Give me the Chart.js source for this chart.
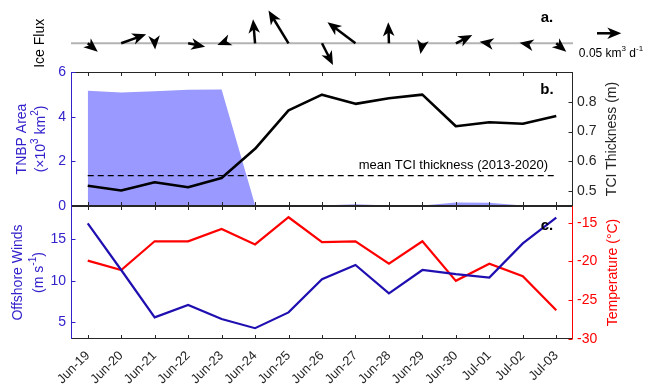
<!DOCTYPE html>
<html>
<head>
<meta charset="utf-8">
<script src="https://cdn.jsdelivr.net/npm/chart.js@4.4.1/dist/chart.umd.min.js"></script>
<style>
  html, body { margin: 0; padding: 0; background: #ffffff; }
  #wrap { position: relative; width: 649px; height: 388px; overflow: hidden; background: #ffffff; }
  #wrap canvas { position: absolute; left: 0; top: 0; }
</style>
</head>
<body>
<div id="wrap">
  <canvas id="panelA" width="649" height="388"></canvas>
  <canvas id="panelB" width="649" height="388"></canvas>
  <canvas id="panelC" width="649" height="388"></canvas>
</div>
<script>
// ---- data ----
const dates = ['Jun-19', 'Jun-20', 'Jun-21', 'Jun-22', 'Jun-23', 'Jun-24', 'Jun-25', 'Jun-26',
               'Jun-27', 'Jun-28', 'Jun-29', 'Jun-30', 'Jul-01', 'Jul-02', 'Jul-03'];

// daily ice flux vectors (km^3 d^-1): eastward and northward components
const iceFluxU = [0.0206, 0.0514, 0.0010, 0.0350, -0.0088, -0.0041, -0.0412, 0.0226,
                  -0.0576, -0.0014, -0.0040, 0.0337, -0.0200, -0.0066, 0.0206];
const iceFluxV = [-0.0173, 0.0185, -0.0130, -0.0070, -0.0035, 0.0494, 0.0673, -0.0447,
                  0.0432, 0.0432, -0.0220, 0.0171, 0.0033, 0.0012, -0.0173];
const fluxReference = 0.05;

// TNBP polynya area (x10^3 km^2) and TCI thickness (m)
const tnbpArea = [5.16, 5.08, 5.14, 5.20, 5.22, 0.04, 0.02, 0.02, 0.08, 0.02, 0.02, 0.16, 0.15, 0.02, 0.0];
const tciThickness = [0.518, 0.502, 0.530, 0.513, 0.544, 0.642, 0.771, 0.824, 0.793, 0.812, 0.824,
                      0.718, 0.731, 0.726, 0.752];
const tciMeanThickness = 0.552;

// offshore winds (m s^-1) and air temperature (deg C)
const offshoreWinds = [16.9, 11.3, 5.6, 7.1, 5.4, 4.3, 6.2, 10.2, 11.9, 8.5, 11.3, 10.8, 10.4, 14.5, 17.6];
const temperature = [-19.9, -21.1, -17.4, -17.4, -15.8, -17.8, -14.3, -17.5, -17.4, -20.3, -17.4,
                     -22.5, -20.3, -21.9, -26.3];

// tick labels
const areaTicks = [0, 2, 4, 6];
const thicknessTicks = [0.5, 0.6, 0.7, 0.8];
const windTicks = [5, 10, 15];
const temperatureTicks = [-30, -25, -20, -15];

// ---- styling ----
const FONT = '"Liberation Sans", Arial, Helvetica, sans-serif';
const AXIS = '#262626';
const BLUE_TEXT = '#3322cc';
const BLUE_LINE = '#1f0fb0';
const AREA_FILL = '#9999ff';
const RED = '#ff0000';
const PLOT_LEFT = 71, PLOT_RIGHT = 573, W = 649, H = 388;
const A_BOTTOM = 72, B_BOTTOM = 206, C_BOTTOM = 339;

Chart.defaults.font.family = FONT;
Chart.defaults.animation = false;
Chart.defaults.responsive = false;
Chart.defaults.devicePixelRatio = 1;
Chart.defaults.plugins.legend.display = false;
Chart.defaults.plugins.tooltip.enabled = false;

// text with superscript segments: segs = [[text, isSup], ...]
function richText(ctx, segs, x, y, o) {
  const size = o.size || 14;
  const weight = o.bold ? 'bold ' : '';
  const base = weight + size + 'px ' + FONT;
  const small = weight + Math.round(size * 0.7) + 'px ' + FONT;
  ctx.save();
  ctx.translate(x, y);
  ctx.rotate(o.rot || 0);
  let w = 0;
  segs.forEach(s => { ctx.font = s[1] ? small : base; w += ctx.measureText(s[0]).width; });
  let cx = o.align === 'right' ? -w : (o.align === 'left' ? 0 : -w / 2);
  ctx.fillStyle = o.color || AXIS;
  ctx.textAlign = 'left';
  ctx.textBaseline = 'middle';
  segs.forEach(s => {
    ctx.font = s[1] ? small : base;
    ctx.fillText(s[0], cx, s[1] ? -size * 0.38 : 0);
    cx += ctx.measureText(s[0]).width;
  });
  ctx.restore();
}

function seg(ctx, x1, y1, x2, y2) {
  ctx.beginPath(); ctx.moveTo(x1, y1); ctx.lineTo(x2, y2); ctx.stroke();
}

function arrow(ctx, x1, y1, x2, y2) {
  const dx = x2 - x1, dy = y2 - y1, len = Math.hypot(dx, dy) || 1;
  const ux = dx / len, uy = dy / len, nx = -uy, ny = ux;
  const L = 14, Wd = 5.8;
  ctx.lineWidth = 2.5;
  ctx.lineCap = 'butt';
  if (len > L * 0.7) seg(ctx, x1, y1, x2 - ux * L * 0.6, y2 - uy * L * 0.6);
  ctx.beginPath();
  ctx.moveTo(x2, y2);
  ctx.lineTo(x2 - ux * L + nx * Wd, y2 - uy * L + ny * Wd);
  ctx.lineTo(x2 - ux * L * 0.72, y2 - uy * L * 0.72);
  ctx.lineTo(x2 - ux * L - nx * Wd, y2 - uy * L - ny * Wd);
  ctx.closePath();
  ctx.fill();
}

// box edges with inward ticks
const framePlugin = {
  id: 'frame',
  afterDatasetsDraw(chart, args, opts) {
    const { ctx, chartArea: { left, right, top, bottom }, scales } = chart;
    const T = 4;
    ctx.save();
    ctx.lineWidth = 1;
    ctx.strokeStyle = AXIS;
    seg(ctx, left, top + 0.5, right, top + 0.5);
    seg(ctx, left, bottom - 0.5, right, bottom - 0.5);
    dates.forEach((d, i) => {
      const px = Math.round(scales.x.getPixelForValue(i)) + 0.5;
      seg(ctx, px, top, px, top + T);
      seg(ctx, px, bottom, px, bottom - T);
    });
    opts.axes.forEach(a => {
      const s = scales[a.id];
      const ex = a.side === 'left' ? left + 0.5 : right - 0.5;
      ctx.strokeStyle = a.color;
      seg(ctx, ex, top, ex, bottom);
      s.ticks.forEach(t => {
        const py = Math.round(s.getPixelForValue(t.value)) + 0.5;
        seg(ctx, ex, py, ex + (a.side === 'left' ? T : -T), py);
      });
    });
    ctx.restore();
  }
};

function fixedTicks(list) {
  return scale => { scale.ticks = list.map(v => ({ value: v })); };
}

// ---- panel a: ice flux vectors ----
const fluxPxPerUnit = 486;
new Chart(document.getElementById('panelA'), {
  type: 'line',
  data: { labels: dates, datasets: [] },
  options: {
    layout: { padding: { left: PLOT_LEFT, right: W - PLOT_RIGHT, top: 0, bottom: H - A_BOTTOM } },
    scales: {
      x: { type: 'category', offset: true, display: false },
      y: { type: 'linear', display: false, min: -(A_BOTTOM - 43.3) / fluxPxPerUnit, max: 43.3 / fluxPxPerUnit }
    }
  },
  plugins: [{
    id: 'quiver',
    afterDatasetsDraw(chart) {
      const { ctx, chartArea, scales: { x, y } } = chart;
      const y0 = y.getPixelForValue(0);
      const ppu = y0 - y.getPixelForValue(1);
      ctx.save();
      ctx.strokeStyle = '#b3b3b3';
      ctx.lineWidth = 2;
      seg(ctx, chartArea.left, y0, chartArea.right, y0);
      ctx.strokeStyle = '#000000';
      ctx.fillStyle = '#000000';
      iceFluxU.forEach((u, i) => {
        const tx = x.getPixelForValue(i);
        arrow(ctx, tx, y0, tx + u * ppu, y.getPixelForValue(iceFluxV[i]));
      });
      const lx = chartArea.right + 24, ly = y.getPixelForValue(0.0206);
      arrow(ctx, lx, ly, lx + fluxReference * ppu, ly);
      ctx.restore();
      richText(ctx, [['0.05 km', false], ['3', true], [' d', false], ['-1', true]],
               chartArea.right + 38, ly + 20.5, { size: 12, color: '#000000' });
      richText(ctx, [['a.', false]], chartArea.right - 26, 18, { size: 15, bold: true, color: '#000000' });
      richText(ctx, [['Ice Flux', false]], 40, y0, { size: 14, rot: -Math.PI / 2, color: '#000000' });
    }
  }]
});

// ---- panel b: TNBP area and TCI thickness ----
new Chart(document.getElementById('panelB'), {
  type: 'line',
  data: {
    labels: dates,
    datasets: [
      { data: tciThickness, yAxisID: 'yR', borderColor: '#000000', borderWidth: 2.6,
        pointRadius: 0, tension: 0, order: 0, borderJoinStyle: 'round' },
      { data: [{ x: dates[0], y: tciMeanThickness }, { x: dates[dates.length - 1], y: tciMeanThickness }],
        yAxisID: 'yR', borderColor: '#000000', borderWidth: 1.1, borderDash: [6, 4],
        pointRadius: 0, order: 1 },
      { data: tnbpArea, yAxisID: 'yL', borderWidth: 0, borderColor: AREA_FILL,
        backgroundColor: AREA_FILL, fill: 'origin', pointRadius: 0, tension: 0, order: 2 }
    ]
  },
  options: {
    layout: { padding: { left: 0, right: 0, top: A_BOTTOM, bottom: H - B_BOTTOM } },
    scales: {
      x: { type: 'category', offset: true, display: false },
      yL: {
        position: 'left', min: 0, max: 6,
        afterBuildTicks: fixedTicks(areaTicks),
        afterFit: s => { s.width = PLOT_LEFT; },
        grid: { display: false, drawTicks: false }, border: { display: false },
        ticks: { color: BLUE_TEXT, font: { size: 14 }, padding: 5 }
      },
      yR: {
        position: 'right', min: 0.45, max: 0.9,
        afterBuildTicks: fixedTicks(thicknessTicks),
        afterFit: s => { s.width = W - PLOT_RIGHT; },
        grid: { display: false, drawTicks: false }, border: { display: false },
        ticks: { color: AXIS, font: { size: 14 }, padding: 4, callback: v => v.toFixed(1) }
      }
    },
    plugins: { frame: { axes: [{ id: 'yL', side: 'left', color: BLUE_TEXT }, { id: 'yR', side: 'right', color: AXIS }] } }
  },
  plugins: [framePlugin, {
    id: 'panelBText',
    afterDraw(chart) {
      const { ctx, chartArea: { left, right, top, bottom }, scales } = chart;
      const mid = (top + bottom) / 2;
      richText(ctx, [['mean TCI thickness (2013-2020)', false]], right - 25,
               scales.yR.getPixelForValue(tciMeanThickness) - 10, { size: 13, align: 'right', color: '#000000' });
      richText(ctx, [['b.', false]], right - 26, top + 18, { size: 15, bold: true, color: '#000000' });
      richText(ctx, [['TNBP Area', false]], 22, mid, { size: 14, rot: -Math.PI / 2, color: BLUE_TEXT });
      richText(ctx, [['(\u00d710', false], ['3', true], [' km', false], ['2', true], [')', false]], 41, mid,
               { size: 14, rot: -Math.PI / 2, color: BLUE_TEXT });
      richText(ctx, [['TCI Thickness (m)', false]], 612, mid, { size: 14, rot: -Math.PI / 2, color: AXIS });
    }
  }]
});

// ---- panel c: offshore winds and temperature ----
new Chart(document.getElementById('panelC'), {
  type: 'line',
  data: {
    labels: dates,
    datasets: [
      { data: offshoreWinds, yAxisID: 'yL', borderColor: BLUE_LINE, borderWidth: 2.2,
        pointRadius: 0, tension: 0, order: 0 },
      { data: temperature, yAxisID: 'yR', borderColor: RED, borderWidth: 2.2,
        pointRadius: 0, tension: 0, order: 1 }
    ]
  },
  options: {
    layout: { padding: { left: 0, right: 0, top: B_BOTTOM, bottom: 0 } },
    scales: {
      x: {
        type: 'category', offset: true, position: 'bottom',
        afterFit: s => { s.height = H - C_BOTTOM; },
        grid: { display: false, drawTicks: false }, border: { display: false },
        ticks: { autoSkip: false, maxRotation: 45, minRotation: 45, color: AXIS, font: { size: 13 }, padding: 9 }
      },
      yL: {
        position: 'left', min: 3, max: 19,
        afterBuildTicks: fixedTicks(windTicks),
        afterFit: s => { s.width = PLOT_LEFT; },
        grid: { display: false, drawTicks: false }, border: { display: false },
        ticks: { color: BLUE_TEXT, font: { size: 14 }, padding: 5 }
      },
      yR: {
        position: 'right', min: -30, max: -12.85,
        afterBuildTicks: fixedTicks(temperatureTicks),
        afterFit: s => { s.width = W - PLOT_RIGHT; },
        grid: { display: false, drawTicks: false }, border: { display: false },
        ticks: { color: RED, font: { size: 14 }, padding: 4 }
      }
    },
    plugins: { frame: { axes: [{ id: 'yL', side: 'left', color: BLUE_TEXT }, { id: 'yR', side: 'right', color: RED }] } }
  },
  plugins: [framePlugin, {
    id: 'panelCText',
    afterDraw(chart) {
      const { ctx, chartArea: { right, top, bottom } } = chart;
      const mid = (top + bottom) / 2;
      richText(ctx, [['c.', false]], right - 26, top + 20, { size: 15, bold: true, color: '#000000' });
      richText(ctx, [['Offshore Winds', false]], 18, mid, { size: 14, rot: -Math.PI / 2, color: BLUE_TEXT });
      richText(ctx, [['(m s', false], ['-1', true], [')', false]], 39, mid, { size: 14, rot: -Math.PI / 2, color: BLUE_TEXT });
      richText(ctx, [['Temperature (\u00b0C)', false]], 613, mid, { size: 14, rot: -Math.PI / 2, color: RED });
    }
  }]
});
</script>
</body>
</html>
